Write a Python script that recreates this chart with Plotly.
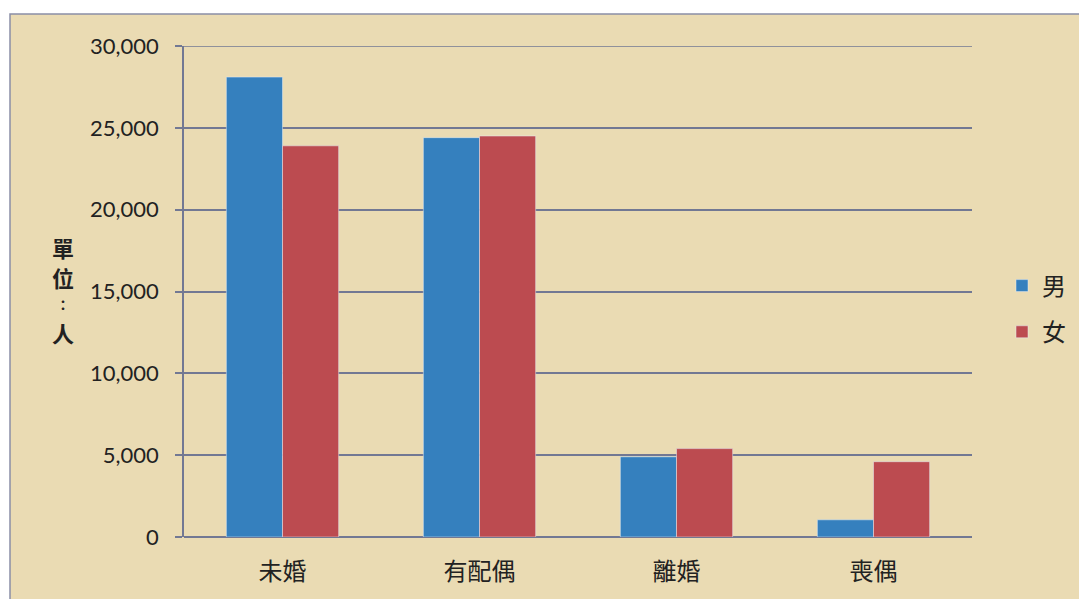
import plotly.graph_objects as go

categories = ["未婚", "有配偶", "離婚", "喪偶"]
male = [28100, 24400, 4900, 1050]
female = [23900, 24500, 5400, 4600]
series_names = ["男", "女"]
y_ticks = [0, 5000, 10000, 15000, 20000, 25000, 30000]
y_tick_labels = ["0", "5,000", "10,000", "15,000", "20,000", "25,000", "30,000"]
y_title_chars = ["單", "位", "：", "人"]

W, H = 1079, 599
L, R, T, B = 184, 107, 46, 62
pw, ph = W - L - R, H - T - B

grid = "#727893"
parch = "#EADBB3"
tickfont = dict(family="Lato, 'Open Sans', sans-serif", size=22, color="#222222")
cjk = "'Noto Sans CJK TC', 'Noto Sans CJK SC', sans-serif"

fig = go.Figure()
fig.add_trace(go.Bar(x=categories, y=male, name=series_names[0], marker_color="#3580BE",
                     legendgroup="m"))
fig.add_trace(go.Bar(x=categories, y=female, name=series_names[1], marker_color="#BC4B50",
                     legendgroup="f"))

def px_x(p):
    return (p - L) / pw

def px_y(p):
    return 1 - (p - T) / ph

fig.add_shape(type="rect", xref="paper", yref="paper", layer="below",
              x0=px_x(10), x1=px_x(W + 5), y0=px_y(H + 5), y1=px_y(14),
              fillcolor=parch, line=dict(color="#8A8FA6", width=1.5))
# top gridline at 30,000
fig.add_shape(type="line", xref="paper", yref="y", x0=px_x(177), x1=1, y0=30000, y1=30000,
              line=dict(color=grid, width=1.5))

for ch, yp, sz in zip(y_title_chars, [247, 277, 304, 332], [22, 22, 14, 22]):
    fig.add_annotation(text="<b>%s</b>" % ch, xref="paper", yref="paper",
                       x=px_x(63), y=px_y(yp), showarrow=False,
                       xanchor="center", yanchor="middle", borderpad=0,
                       font=dict(family=cjk, size=sz, color="#222222"))

fig.update_layout(
    width=W, height=H,
    margin=dict(l=L, r=R, t=T, b=B, autoexpand=False),
    paper_bgcolor="white",
    plot_bgcolor="rgba(0,0,0,0)",
    barmode="group",
    bargap=0.43,
    bargroupgap=0,
    showlegend=True,
    legend=dict(x=px_x(1002), y=px_y(309), xanchor="left", yanchor="middle",
                font=dict(family=cjk, size=24, color="#222222"),
                bgcolor="rgba(0,0,0,0)", tracegroupgap=12, itemwidth=30),
    xaxis=dict(showline=False, ticks="", tickfont=dict(family=cjk, size=24, color="#222222"),
               ticklabelstandoff=18, showgrid=False),
    yaxis=dict(range=[0, 30000], tickvals=y_ticks, ticktext=y_tick_labels,
               tickfont=tickfont, showgrid=True, gridcolor=grid, gridwidth=1.5,
               showline=True, linecolor=grid, linewidth=1.5,
               ticks="outside", ticklen=7, tickcolor=grid, tickwidth=1.5,
               ticklabelstandoff=12, zeroline=True, zerolinecolor=grid, zerolinewidth=1.5),
)

fig.write_html("out.html", config={"displayModeBar": False})

with open("out.html", encoding="utf-8") as f:
    html = f.read()
html = html.replace("<head>", "<head><style>html,body{margin:0;padding:0;overflow:hidden;}</style>", 1)
with open("out.html", "w", encoding="utf-8") as f:
    f.write(html)
